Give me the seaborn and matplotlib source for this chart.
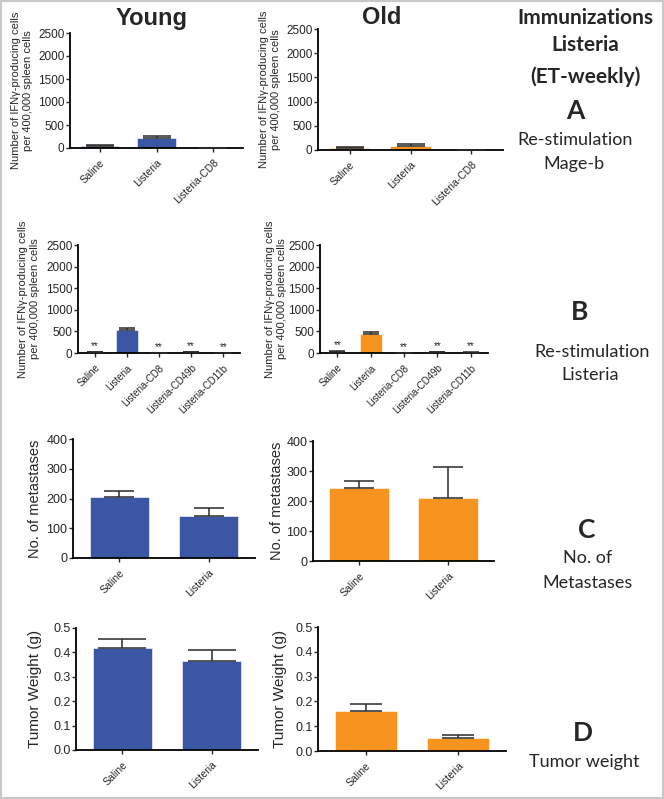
import matplotlib
matplotlib.use('Agg')
import matplotlib.pyplot as plt
from matplotlib.patches import Rectangle
import numpy as np
import seaborn as sns

sns.set_style('ticks')
plt.rcParams['font.family'] = ['Liberation Sans', 'DejaVu Sans']

BLUE = '#3B56A4'
ORANGE = '#F7931E'
W, H = 664, 799

# data
cats_A = ['Saline', 'Listeria', 'Listeria-CD8']
young_A = [40, 223, 5]
young_A_err = [20, 30, 3]
old_A = [35, 90, 0]
old_A_err = [27, 28, 0]

cats_B = ['Saline', 'Listeria', 'Listeria-CD8', 'Listeria-CD49b', 'Listeria-CD11b']
young_B = [20, 540, 5, 20, 5]
young_B_err = [8, 32, 2, 8, 2]
old_B = [30, 440, 3, 15, 10]
old_B_err = [10, 45, 2, 8, 5]
stars_B = ['**', '', '**', '**', '**']

cats_CD = ['Saline', 'Listeria']
young_C = [206, 142]
young_C_err = [19, 26]
old_C = [242, 211]
old_C_err = [26, 103]
young_D = [0.418, 0.366]
young_D_err = [0.037, 0.044]
old_D = [0.16, 0.054]
old_D_err = [0.028, 0.010]

ifn_label = 'Number of IFNγ-producing cells\nper 400,000 spleen cells'

fig = plt.figure(figsize=(W / 100, H / 100), dpi=100)


def px_axes(x0, x1, y0, y1):
  return fig.add_axes([x0 / W, 1 - y1 / H, (x1 - x0) / W, (y1 - y0) / H])


def panel(box, cats, vals, errs, color, ylim, yticks, ylabel, lab_off,
          cap, xfs, yfs, lfs, stars=None):
  ax = px_axes(*box)
  n = len(cats)
  sns.barplot(x=cats, y=vals, ax=ax, color=color, width=0.67, errorbar=None,
              saturation=1, edgecolor='white', linewidth=0.4)
  x = np.arange(n)
  ax.errorbar(x, vals, yerr=[np.zeros(n), errs], fmt='none', ecolor='#2a2a2a',
              elinewidth=1.1, capsize=cap, capthick=1.1, zorder=5)
  if stars:
    for i, s in enumerate(stars):
      if s:
        ax.text(i, vals[i] + errs[i] + ylim[1] * 0.01, s, ha='center', va='bottom',
                fontsize=7)
  ax.set_xlim(-0.52, n - 0.48)
  ax.set_ylim(*ylim)
  ax.set_yticks(yticks)
  ax.set_xticks(x)
  ax.tick_params(axis='y', labelsize=yfs, length=3, width=1, pad=1)
  ax.tick_params(axis='x', labelsize=xfs, length=3, width=1, pad=4)
  ax.set_xticklabels(cats, rotation=45, ha='right', rotation_mode='anchor',
                     fontsize=xfs)
  ax.set_ylabel(ylabel, fontsize=lfs, linespacing=1.2)
  ax.yaxis.label.set_va('center')
  ax.yaxis.set_label_coords(lab_off / (box[1] - box[0]), 0.5)
  for sp in ['left', 'bottom']:
    ax.spines[sp].set_linewidth(1.3)
    ax.spines[sp].set_color('black')
  sns.despine(ax=ax)
  return ax


tA = [0, 500, 1000, 1500, 2000, 2500]
panel((70, 243, 33, 148), cats_A, young_A, young_A_err, BLUE, (0, 2500), tA,
      ifn_label, -48, 10, 7.5, 8.5, 8)
panel((318, 503, 29, 150), cats_A, old_A, old_A_err, ORANGE, (0, 2500), tA,
      ifn_label, -48, 10, 7.5, 8.5, 8)
panel((78, 240, 245, 353), cats_B, young_B, young_B_err, BLUE, (0, 2500), tA,
      ifn_label, -49, 6, 7, 8.5, 8, stars_B)
panel((320, 488, 245, 353), cats_B, old_B, old_B_err, ORANGE, (0, 2500), tA,
      ifn_label, -44, 6, 7, 8.5, 8, stars_B)
tC = [0, 100, 200, 300, 400]
panel((73, 255, 439, 558), cats_CD, young_C, young_C_err, BLUE, (0, 400), tC,
      'No. of metastases', -38, 11, 7.5, 9, 10.5)
panel((313, 494, 441, 561), cats_CD, old_C, old_C_err, ORANGE, (0, 400), tC,
      'No. of metastases', -36, 11, 7.5, 9, 10.5)
tD = [0.0, 0.1, 0.2, 0.3, 0.4, 0.5]
axD1 = panel((76, 258, 628, 750), cats_CD, young_D, young_D_err, BLUE, (0, 0.5), tD,
             'Tumor Weight (g)', -41, 17, 7.5, 9, 11)
axD2 = panel((318, 506, 627, 751), cats_CD, old_D, old_D_err, ORANGE, (0, 0.5), tD,
             'Tumor Weight (g)', -38, 11.5, 7.5, 9, 11)
for a in (axD1, axD2):
  a.yaxis.set_major_formatter(matplotlib.ticker.FormatStrFormatter('%.1f'))

# column headers
fig.text(152 / W, 1 - 18 / H, 'Young', ha='center', va='center', fontsize=17,
         fontweight='bold')
fig.text(382 / W, 1 - 18 / H, 'Old', ha='center', va='center', fontsize=17,
         fontweight='bold')

# right-hand annotations
side = [
  (585, 18, 'Immunizations', 15, 'bold'),
  (585, 45, 'Listeria', 15, 'bold'),
  (585, 77, '(ET-weekly)', 15, 'bold'),
  (575, 111, 'A', 19, 'bold'),
  (575, 140, 'Re-stimulation', 13, 'normal'),
  (574, 164, 'Mage-b', 13, 'normal'),
  (580, 312, 'B', 19, 'bold'),
  (592, 352, 'Re-stimulation', 13, 'normal'),
  (590, 375, 'Listeria', 13, 'normal'),
  (587, 530, 'C', 19, 'bold'),
  (588, 558, 'No. of', 13, 'normal'),
  (588, 583, 'Metastases', 13, 'normal'),
  (583, 733, 'D', 19, 'bold'),
  (584, 762, 'Tumor weight', 13, 'normal'),
]
for x, y, s, fs, fw in side:
  fig.text(x / W, 1 - y / H, s, ha='center', va='center', fontsize=fs,
           fontweight=fw, family=['Lato', 'DejaVu Sans'])

fig.patches.append(Rectangle((0, 0), 1, 1, transform=fig.transFigure, fill=False,
                             edgecolor='#c8c8c8', linewidth=3))

fig.savefig('out.png', dpi=100)
